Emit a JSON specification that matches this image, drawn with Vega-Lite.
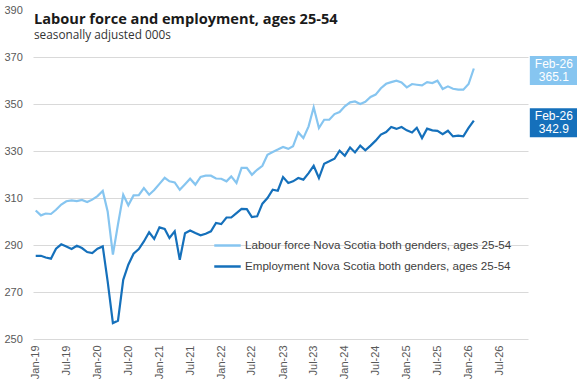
{
  "$schema": "https://vega.github.io/schema/vega-lite/v6.json",
  "width": 495,
  "height": 329,
  "autosize": {"type": "none"},
  "padding": {"left": 33, "top": 10, "right": 49, "bottom": 46},
  "background": "white",
  "config": {
    "view": {"stroke": null},
    "font": "Liberation Sans"
  },
  "title": {
    "text": "Labour force and employment, ages 25-54",
    "subtitle": "seasonally adjusted 000s",
    "anchor": "start",
    "frame": "group",
    "orient": "top",
    "offset": -38,
    "font": "Open Sans",
    "fontSize": 14.6,
    "fontWeight": "bold",
    "color": "#1a1a1a",
    "subtitleFont": "Open Sans",
    "subtitleFontSize": 11.8,
    "subtitleColor": "#333333",
    "subtitlePadding": 4,
    "dx": 1
  },
  "data": {
    "values": [
      {"month": "2019-01", "lf": 304.7, "emp": 285.4},
      {"month": "2019-02", "lf": 302.6, "emp": 285.4},
      {"month": "2019-03", "lf": 303.4, "emp": 284.7},
      {"month": "2019-04", "lf": 303.2, "emp": 284.2},
      {"month": "2019-05", "lf": 305.0, "emp": 288.4},
      {"month": "2019-06", "lf": 307.2, "emp": 290.3},
      {"month": "2019-07", "lf": 308.6, "emp": 289.4},
      {"month": "2019-08", "lf": 309.0, "emp": 288.3},
      {"month": "2019-09", "lf": 308.7, "emp": 289.7},
      {"month": "2019-10", "lf": 309.2, "emp": 288.7},
      {"month": "2019-11", "lf": 308.3, "emp": 287.0},
      {"month": "2019-12", "lf": 309.3, "emp": 286.6},
      {"month": "2020-01", "lf": 310.8, "emp": 288.4},
      {"month": "2020-02", "lf": 313.0, "emp": 289.4},
      {"month": "2020-03", "lf": 304.3, "emp": 274.5},
      {"month": "2020-04", "lf": 285.9, "emp": 256.8},
      {"month": "2020-05", "lf": 298.8, "emp": 257.8},
      {"month": "2020-06", "lf": 311.4, "emp": 275.2},
      {"month": "2020-07", "lf": 306.9, "emp": 281.6},
      {"month": "2020-08", "lf": 311.1, "emp": 286.3},
      {"month": "2020-09", "lf": 311.2, "emp": 288.3},
      {"month": "2020-10", "lf": 314.2, "emp": 291.5},
      {"month": "2020-11", "lf": 311.4, "emp": 295.4},
      {"month": "2020-12", "lf": 313.4, "emp": 292.6},
      {"month": "2021-01", "lf": 316.0, "emp": 297.5},
      {"month": "2021-02", "lf": 318.6, "emp": 296.8},
      {"month": "2021-03", "lf": 317.1, "emp": 293.0},
      {"month": "2021-04", "lf": 316.6, "emp": 295.8},
      {"month": "2021-05", "lf": 313.5, "emp": 283.7},
      {"month": "2021-06", "lf": 315.9, "emp": 295.0},
      {"month": "2021-07", "lf": 318.2, "emp": 296.2},
      {"month": "2021-08", "lf": 315.7, "emp": 295.1},
      {"month": "2021-09", "lf": 319.0, "emp": 294.1},
      {"month": "2021-10", "lf": 319.5, "emp": 294.8},
      {"month": "2021-11", "lf": 319.5, "emp": 295.8},
      {"month": "2021-12", "lf": 318.3, "emp": 299.4},
      {"month": "2022-01", "lf": 318.2, "emp": 298.9},
      {"month": "2022-02", "lf": 317.1, "emp": 301.7},
      {"month": "2022-03", "lf": 319.2, "emp": 301.7},
      {"month": "2022-04", "lf": 316.4, "emp": 303.6},
      {"month": "2022-05", "lf": 322.8, "emp": 305.4},
      {"month": "2022-06", "lf": 322.8, "emp": 305.3},
      {"month": "2022-07", "lf": 319.9, "emp": 301.9},
      {"month": "2022-08", "lf": 322.0, "emp": 302.2},
      {"month": "2022-09", "lf": 323.7, "emp": 307.6},
      {"month": "2022-10", "lf": 328.4, "emp": 310.0},
      {"month": "2022-11", "lf": 329.6, "emp": 313.5},
      {"month": "2022-12", "lf": 330.6, "emp": 313.1},
      {"month": "2023-01", "lf": 331.7, "emp": 318.9},
      {"month": "2023-02", "lf": 330.9, "emp": 316.4},
      {"month": "2023-03", "lf": 332.0, "emp": 317.1},
      {"month": "2023-04", "lf": 337.9, "emp": 318.5},
      {"month": "2023-05", "lf": 335.5, "emp": 317.8},
      {"month": "2023-06", "lf": 340.5, "emp": 320.6},
      {"month": "2023-07", "lf": 348.6, "emp": 323.7},
      {"month": "2023-08", "lf": 339.8, "emp": 318.5},
      {"month": "2023-09", "lf": 343.3, "emp": 324.6},
      {"month": "2023-10", "lf": 343.3, "emp": 325.6},
      {"month": "2023-11", "lf": 345.7, "emp": 326.7},
      {"month": "2023-12", "lf": 346.6, "emp": 330.1},
      {"month": "2024-01", "lf": 349.0, "emp": 328.0},
      {"month": "2024-02", "lf": 350.7, "emp": 331.5},
      {"month": "2024-03", "lf": 351.1, "emp": 329.4},
      {"month": "2024-04", "lf": 350.0, "emp": 332.3},
      {"month": "2024-05", "lf": 350.9, "emp": 330.3},
      {"month": "2024-06", "lf": 353.0, "emp": 332.3},
      {"month": "2024-07", "lf": 354.0, "emp": 334.4},
      {"month": "2024-08", "lf": 356.7, "emp": 337.0},
      {"month": "2024-09", "lf": 358.6, "emp": 338.1},
      {"month": "2024-10", "lf": 359.3, "emp": 340.2},
      {"month": "2024-11", "lf": 359.9, "emp": 339.4},
      {"month": "2024-12", "lf": 359.2, "emp": 340.2},
      {"month": "2025-01", "lf": 357.1, "emp": 338.8},
      {"month": "2025-02", "lf": 358.5, "emp": 337.9},
      {"month": "2025-03", "lf": 358.2, "emp": 339.9},
      {"month": "2025-04", "lf": 357.9, "emp": 335.5},
      {"month": "2025-05", "lf": 359.3, "emp": 339.5},
      {"month": "2025-06", "lf": 358.9, "emp": 338.8},
      {"month": "2025-07", "lf": 359.9, "emp": 338.6},
      {"month": "2025-08", "lf": 356.4, "emp": 337.2},
      {"month": "2025-09", "lf": 357.5, "emp": 338.6},
      {"month": "2025-10", "lf": 356.5, "emp": 336.2},
      {"month": "2025-11", "lf": 356.1, "emp": 336.5},
      {"month": "2025-12", "lf": 356.1, "emp": 336.2},
      {"month": "2026-01", "lf": 358.5, "emp": 339.8},
      {"month": "2026-02", "lf": 365.1, "emp": 342.9}
    ]
  },
  "transform": [
    {"fold": ["lf", "emp"], "as": ["series", "value"]}
  ],
  "encoding": {
    "x": {
      "field": "month",
      "type": "temporal",
      "scale": {
        "type": "utc",
        "domain": [
          {"year": 2018, "month": 12, "date": 16, "utc": true},
          {"year": 2026, "month": 12, "date": 18, "utc": true}
        ]
      },
      "axis": {
        "title": null,
        "values": [
          {"year": 2019, "month": 1, "date": 1, "utc": true},
          {"year": 2019, "month": 7, "date": 1, "utc": true},
          {"year": 2020, "month": 1, "date": 1, "utc": true},
          {"year": 2020, "month": 7, "date": 1, "utc": true},
          {"year": 2021, "month": 1, "date": 1, "utc": true},
          {"year": 2021, "month": 7, "date": 1, "utc": true},
          {"year": 2022, "month": 1, "date": 1, "utc": true},
          {"year": 2022, "month": 7, "date": 1, "utc": true},
          {"year": 2023, "month": 1, "date": 1, "utc": true},
          {"year": 2023, "month": 7, "date": 1, "utc": true},
          {"year": 2024, "month": 1, "date": 1, "utc": true},
          {"year": 2024, "month": 7, "date": 1, "utc": true},
          {"year": 2025, "month": 1, "date": 1, "utc": true},
          {"year": 2025, "month": 7, "date": 1, "utc": true},
          {"year": 2026, "month": 1, "date": 1, "utc": true},
          {"year": 2026, "month": 7, "date": 1, "utc": true}
        ],
        "format": "%b-%y",
        "labelAngle": 270,
        "labelAlign": "right",
        "labelBaseline": "middle",
        "labelPadding": 6,
        "labelFontSize": 11,
        "labelColor": "#595959",
        "labelFont": "Liberation Sans",
        "ticks": false,
        "domain": false,
        "grid": false,
        "labelOverlap": false
      }
    },
    "y": {
      "field": "value",
      "type": "quantitative",
      "scale": {"domain": [250, 390], "nice": false, "zero": false},
      "axis": {
        "title": null,
        "values": [250, 270, 290, 310, 330, 350, 370, 390],
        "labelAlign": "left",
        "labelPadding": 29,
        "tickSize": 0,
        "ticks": false,
        "domain": false,
        "grid": true,
        "gridColor": {"condition": {"test": "datum.value == 390", "value": "transparent"}, "value": "#d9d9d9"},
        "gridWidth": 1,
        "labelFontSize": 11,
        "labelColor": "#595959",
        "labelFont": "Liberation Sans"
      }
    },
    "color": {
      "field": "series",
      "type": "nominal",
      "scale": {"domain": ["lf", "emp"], "range": ["#86c5f0", "#1570bb"]}
    }
  },
  "layer": [
    {
      "mark": {"type": "line", "strokeWidth": 2.2},
      "encoding": {
        "color": {
          "field": "series",
          "type": "nominal",
          "scale": {"domain": ["lf", "emp"], "range": ["#86c5f0", "#1570bb"]},
          "legend": {
            "title": null,
            "orient": "none",
            "legendX": 180,
            "legendY": 225,
            "direction": "vertical",
            "symbolType": "stroke",
            "symbolSize": 700,
            "symbolStrokeWidth": 2.5,
            "clipHeight": 21,
            "rowPadding": 0,
            "padding": 0,
            "labelOffset": 3,
            "labelFontSize": 11.6,
            "labelFont": "Liberation Sans",
            "labelColor": "#404040",
            "labelLimit": 400,
            "labelExpr": "datum.label == 'lf' ? 'Labour force Nova Scotia both genders, ages 25-54' : 'Employment Nova Scotia both genders, ages 25-54'"
          }
        }
      }
    },
    {
      "transform": [{"filter": "utcyear(datum.month) == 2026 && utcmonth(datum.month) == 1"}],
      "mark": {"type": "rect", "width": 48, "height": 29, "xOffset": 80, "yOffset": 2},
      "encoding": {"color": {"field": "series", "type": "nominal", "legend": null}}
    },
    {
      "transform": [{"filter": "utcyear(datum.month) == 2026 && utcmonth(datum.month) == 1"}],
      "mark": {"type": "text", "xOffset": 80, "yOffset": -5, "color": "white", "fontSize": 12, "font": "Liberation Sans", "baseline": "middle", "align": "center"},
      "encoding": {
        "text": {"field": "month", "type": "temporal", "format": "%b-%y"},
        "color": {"value": "white"}
      }
    },
    {
      "transform": [{"filter": "utcyear(datum.month) == 2026 && utcmonth(datum.month) == 1"}],
      "mark": {"type": "text", "xOffset": 80, "yOffset": 8.5, "color": "white", "fontSize": 12, "font": "Liberation Sans", "baseline": "middle", "align": "center"},
      "encoding": {
        "text": {"field": "value", "type": "quantitative", "format": ".1f"},
        "color": {"value": "white"}
      }
    }
  ]
}
